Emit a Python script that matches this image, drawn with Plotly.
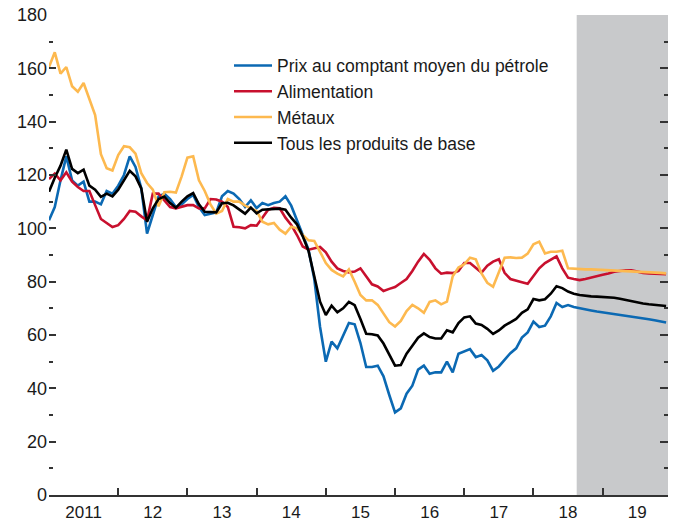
import plotly.graph_objects as go

# Monthly data, Jan 2011 .. Dec 2019 (index = month number from Jan 2011)
year_labels = ["2011", "12", "13", "14", "15", "16", "17", "18", "19"]

oil = [103, 108, 118, 127, 118, 116, 117.5, 110, 110, 109, 114, 113,
       116, 120, 127, 123, 115, 98, 105, 112, 113, 111, 108, 109,
       111, 112.5, 108, 105, 105.5, 106, 112, 114, 113, 111, 108, 110.5,
       107.6, 109.5, 108.7, 109.5, 110, 112, 108.5, 103, 98, 92, 81, 63,
       50, 57.5, 55, 59.5, 64.5, 64, 57, 48, 48, 48.5, 44.5, 37.5,
       31, 32.5, 38, 41, 47, 48.5, 45.5, 46, 46, 50, 46, 53,
       54, 54.7, 51.7, 52.5, 50.5, 46.6, 48.2, 50.5, 53.2, 55, 59, 61,
       65, 63, 63.5, 67, 72, 70.5, 71.2, 70.5, 70.0, 69.6, 69.2, 68.8,
       68.5, 68.2, 67.9, 67.6, 67.3, 67.0, 66.7, 66.3, 65.9, 65.5, 65.1, 64.7]

food = [118.5, 120.5, 118, 121, 117.5, 115.5, 114, 114, 108.7, 103.5, 102, 100.5,
        101.2, 103.5, 106.5, 106.2, 104.5, 103, 113, 113, 110.5, 108, 107.5, 108,
        108.7, 108.7, 107.5, 107.5, 111, 110.8, 110, 108, 100.6, 100.4, 100, 101.2,
        101, 104, 107, 107.7, 107.5, 104, 101.3, 97.5, 93.2, 92, 92.5, 93,
        91, 87.5, 85, 84, 83.5, 83.8, 85, 82, 79, 78.2, 76.5, 77.3,
        78, 79.5, 81, 84, 87.5, 90.4, 88.2, 85, 83, 83.4, 83.2, 84,
        87, 87, 85.2, 83.4, 86, 87.5, 88.4, 83.3, 81, 80.5, 79.8, 79.2,
        82.2, 85, 87, 88.2, 89.5, 85, 81.5, 81, 80.6, 81, 81.6, 82.1,
        82.6, 83.1, 83.7, 84, 84.3, 84.3, 83.8, 83.3, 83.1, 83, 82.9, 82.8]

metals = [160.5, 166, 158, 160.5, 153.3, 151.2, 154.5, 148.5, 142.5, 127.8, 122.5, 121.7,
          127.5, 130.8, 130.4, 128, 120.7, 117, 114.5, 108.3, 113.5, 113.7, 113.4, 119.5,
          126.5, 127, 118, 114, 109, 105.5, 106.5, 111, 110, 110, 108.5, 107.5,
          106.5, 102.5, 101.5, 102, 99.5, 98, 100.6, 100, 97.5, 95.5, 95.3, 91.2,
          87, 84.4, 83, 82, 84.6, 80, 75, 73, 73, 71.3, 68, 64.8,
          63.2, 65.3, 69, 71.3, 70, 68.3, 72.4, 73, 71.5, 72.5, 82, 85.3,
          86.5, 89, 88.4, 83.1, 79.6, 78.1, 83.5, 89, 89.1, 88.9, 89, 90.5,
          94, 95, 90.6, 91.2, 91.2, 91.6, 85, 84.8, 84.7, 84.6, 84.6, 84.5,
          84.5, 84.4, 84.3, 84.2, 84.1, 84.0, 83.9, 83.8, 83.6, 83.5, 83.3, 83.1]

allc = [113.7, 119, 123.5, 129.5, 122.3, 120.7, 122, 116, 114.5, 111.8, 113, 112,
        114.5, 118, 121.6, 119.5, 115, 102.5, 107.5, 111, 111.9, 109.5, 107.7, 110,
        112, 113.2, 109, 106.2, 106.2, 106, 109.4, 109.6, 108.6, 107, 105.5, 107.8,
        105.6, 107, 107.1, 107.1, 107.4, 107, 104, 101.5, 97, 91.5, 82.5, 72.5,
        67.5, 71, 68.5, 70, 72.4, 71.2, 66, 60.5, 60.3, 59.8, 56.8, 52.7,
        48.5, 48.7, 53, 56, 59, 60.6, 59.2, 58.7, 58.7, 61.8, 61, 64.5,
        66.6, 67, 64.3, 63.8, 62.3, 60.4, 61.7, 63.5, 64.8, 66, 68.3, 69.6,
        73.5, 73, 73.4, 75.5, 78.3, 77.6, 76.3, 75.5, 75, 74.7, 74.5, 74.4,
        74.3, 74.1, 74, 73.6, 73.1, 72.6, 72.2, 71.8, 71.5, 71.3, 71.1, 70.9]

series_names = ["Prix au comptant moyen du pétrole", "Alimentation", "Métaux",
                "Tous les produits de base"]
colors = ["#0b69b3", "#c8102e", "#fdb94f", "#000000"]
forecast_start = 91.5  # between Aug and Sep 2018

months = list(range(len(oil)))
year_starts = [12 * k for k in range(len(year_labels))]
year_mids = [12 * k + 6 for k in range(len(year_labels))]

fig = go.Figure()
for name, vals, col in zip(series_names, [oil, food, metals, allc], colors):
    fig.add_trace(go.Scatter(x=months, y=vals, mode="lines", name=name,
                             line=dict(color=col, width=2.6)))
fig.add_trace(go.Scatter(x=[0], y=[0], yaxis="y2", mode="markers",
                         marker=dict(opacity=0), showlegend=False, hoverinfo="skip"))

fig.add_shape(type="rect", xref="x", yref="paper", x0=forecast_start, x1=107.33,
              y0=0, y1=1, fillcolor="#c8c9cb", line=dict(width=0), layer="below")

font = "Liberation Sans, Arial, sans-serif"
fig.update_layout(
    width=673, height=522,
    margin=dict(l=49, r=5, t=15, b=27, autoexpand=False),
    paper_bgcolor="white", plot_bgcolor="white",
    font=dict(family=font, size=18, color="#1a1a1a"),
    showlegend=True,
    legend=dict(x=0.2908, y=0.932, xanchor="left", yanchor="top",
                bgcolor="rgba(0,0,0,0)", font=dict(size=17.5),
                tracegroupgap=0, itemwidth=38),
    xaxis=dict(range=[0, 107.33], showgrid=False, zeroline=False,
               showline=True, linecolor="#333333", linewidth=1.5,
               tickmode="array", tickvals=year_mids, ticktext=year_labels,
               tickfont=dict(size=17),
               ticks="inside", ticklen=0, tickcolor="rgba(0,0,0,0)",
               ticklabelstandoff=1,
               minor=dict(tickmode="array", tickvals=year_starts, ticks="inside",
                          ticklen=7, tickwidth=1.5, tickcolor="#333333", showgrid=False),
               automargin=False),
    yaxis=dict(range=[0, 180], showgrid=False, zeroline=False, showline=False,
               tickmode="linear", tick0=0, dtick=20, ticks="inside", ticklen=7,
               tickwidth=1.5, tickcolor="#333333", ticklabelstandoff=1,
               minor=dict(dtick=10, ticks="inside", ticklen=4, tickwidth=1.5,
                          tickcolor="#333333", showgrid=False),
               automargin=False),
    yaxis2=dict(range=[0, 180], overlaying="y", side="right", showgrid=False,
                zeroline=False, showline=False, showticklabels=False,
                tickmode="linear", tick0=0, dtick=20, ticks="inside", ticklen=8,
                tickwidth=1.5, tickcolor="#333333",
                minor=dict(dtick=10, ticks="inside", ticklen=4, tickwidth=1.5,
                           tickcolor="#333333", showgrid=False),
                automargin=False),
)

fig.write_html("out.html", config={"displayModeBar": False},
               post_script="document.body.style.margin='0';")
